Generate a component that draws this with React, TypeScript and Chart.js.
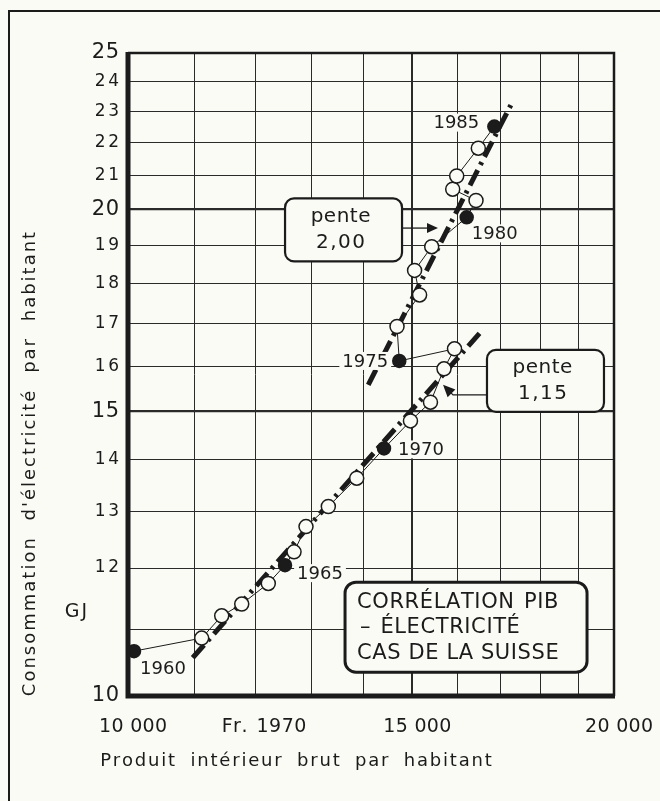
import { useEffect, useRef } from 'react';
import { Chart, registerables } from 'chart.js';

Chart.register(...registerables);

// ---------- data ----------
const years = [1960, 1961, 1962, 1963, 1964, 1965, 1966, 1967, 1968, 1969, 1970, 1971, 1972, 1973, 1974, 1975, 1976, 1977, 1978, 1979, 1980, 1981, 1982, 1983, 1984, 1985];
const gdpPerCapita = [10086, 11108, 11430, 11761, 12215, 12510, 12672, 12890, 13307, 13857, 14407, 14961, 15394, 15694, 15931, 14724, 14677, 15157, 15049, 15421, 16210, 16427, 15890, 15981, 16481, 16862];
const electricityGJ = [10.66, 10.86, 11.21, 11.40, 11.74, 12.05, 12.28, 12.73, 13.10, 13.64, 14.23, 14.80, 15.20, 15.94, 16.40, 16.12, 16.93, 17.71, 18.34, 18.97, 19.78, 20.26, 20.59, 20.98, 21.83, 22.51];
const labelledYears = [1960, 1965, 1970, 1975, 1980, 1985];

const trendLowX = [10967, 16521];
const trendLowY = [10.56, 16.78];
const trendHighX = [14087, 17285];
const trendHighY = [15.58, 23.27];

const xGridValues = [10000, 11000, 12000, 13000, 14000, 15000, 16000, 17000, 18000, 19000, 20000];
const yGridValues = [10, 11, 12, 13, 14, 15, 16, 17, 18, 19, 20, 21, 22, 23, 24, 25];
const xMajorGrid = [15000];
const yMajorGrid = [15, 20];

const yTickLabels = [10, 12, 13, 14, 15, 16, 17, 18, 19, 20, 21, 22, 23, 24, 25];
const yBigTickLabels = [10, 15, 20, 25];
const xTickValues = [10000, 15000, 20000];
const xTickTexts = ['10 000', '15 000', '20 000'];

const xUnitText = 'Fr. 1970';
const yUnitText = 'GJ';
const xTitle = 'Produit intérieur brut par habitant';
const yTitle = "Consommation d'électricité par habitant";
const slopeHighText = ['pente', '2,00'];
const slopeLowText = ['pente', '1,15'];
const titleLines = ['CORRÉLATION PIB', '– ÉLECTRICITÉ', 'CAS DE LA SUISSE'];

// ---------- style ----------
const BG = '#fbfbf6';
const INK = '#1b1b1b';
const FONT = '"DejaVu Sans", sans-serif';

function spacedWidth(ctx: CanvasRenderingContext2D, text: string, ls: number, ws: number) {
  let w = 0;
  const chars = Array.from(text);
  for (const ch of chars) w += ctx.measureText(ch).width + ls + (ch === ' ' ? ws : 0);
  return w - ls;
}

function drawSpaced(ctx: CanvasRenderingContext2D, text: string, x: number, y: number, align: string, ls = 0, ws = 0) {
  const w = spacedWidth(ctx, text, ls, ws);
  let cx = align === 'center' ? x - w / 2 : align === 'right' ? x - w : x;
  ctx.textAlign = 'left';
  for (const ch of Array.from(text)) {
    ctx.fillText(ch, cx, y);
    cx += ctx.measureText(ch).width + ls + (ch === ' ' ? ws : 0);
  }
  return w;
}

function roundRect(ctx: CanvasRenderingContext2D, x: number, y: number, w: number, h: number, r: number) {
  ctx.beginPath();
  ctx.moveTo(x + r, y);
  ctx.lineTo(x + w - r, y);
  ctx.arcTo(x + w, y, x + w, y + r, r);
  ctx.lineTo(x + w, y + h - r);
  ctx.arcTo(x + w, y + h, x + w - r, y + h, r);
  ctx.lineTo(x + r, y + h);
  ctx.arcTo(x, y + h, x, y + h - r, r);
  ctx.lineTo(x, y + r);
  ctx.arcTo(x, y, x + r, y, r);
  ctx.closePath();
}

function arrowHead(ctx: CanvasRenderingContext2D, fromX: number, fromY: number, tipX: number, tipY: number, len: number, half: number) {
  const a = Math.atan2(tipY - fromY, tipX - fromX);
  ctx.beginPath();
  ctx.moveTo(tipX, tipY);
  ctx.lineTo(tipX - len * Math.cos(a) + half * Math.sin(a), tipY - len * Math.sin(a) - half * Math.cos(a));
  ctx.lineTo(tipX - len * Math.cos(a) - half * Math.sin(a), tipY - len * Math.sin(a) + half * Math.cos(a));
  ctx.closePath();
  ctx.fill();
}

const yearLabelOffsets: Record<number, [number, number]> = {
  1960: [29, 17],
  1965: [35, 8],
  1970: [37, 1],
  1975: [-34, 0],
  1980: [28, 16],
  1985: [-38, -4],
};

const decorPlugin = {
  id: 'decor',
  beforeDraw(chart: any) {
    const ctx = chart.ctx as CanvasRenderingContext2D;
    ctx.save();
    ctx.fillStyle = BG;
    ctx.fillRect(0, 0, chart.width, chart.height);
    ctx.restore();
  },
  afterDraw(chart: any) {
    const ctx = chart.ctx as CanvasRenderingContext2D;
    const xs = chart.scales.x;
    const ys = chart.scales.y;
    const { left, right, top, bottom } = chart.chartArea;
    ctx.save();
    ctx.strokeStyle = INK;
    ctx.fillStyle = INK;
    ctx.lineCap = 'butt';

    // outer frame (top + left)
    ctx.lineWidth = 2;
    ctx.beginPath();
    ctx.moveTo(9, chart.height);
    ctx.lineTo(9, 11);
    ctx.lineTo(chart.width, 11);
    ctx.stroke();

    // plot border
    ctx.lineWidth = 2.5;
    ctx.beginPath();
    ctx.moveTo(left, top);
    ctx.lineTo(right, top);
    ctx.lineTo(right, bottom);
    ctx.stroke();
    ctx.lineWidth = 5;
    ctx.beginPath();
    ctx.moveTo(left, top - 1);
    ctx.lineTo(left, bottom);
    ctx.lineTo(right + 1, bottom);
    ctx.stroke();

    // y tick labels
    ctx.textBaseline = 'middle';
    for (const v of yTickLabels) {
      const big = yBigTickLabels.includes(v);
      ctx.font = `${big ? 21 : 17}px ${FONT}`;
      drawSpaced(ctx, String(v), left - 9, ys.getPixelForValue(v), 'right', big ? 0.5 : 2.5);
    }
    // y unit
    ctx.font = `19px ${FONT}`;
    drawSpaced(ctx, yUnitText, left - 52, ys.getPixelForValue(11.27), 'center', 2);

    // x tick labels
    ctx.font = `19px ${FONT}`;
    xTickValues.forEach((v, i) => {
      drawSpaced(ctx, xTickTexts[i], xs.getPixelForValue(v) + 5, bottom + 31, 'center', 0.3);
    });
    drawSpaced(ctx, xUnitText, xs.getPixelForValue(12141), bottom + 31, 'center', 0.5, 2);

    // axis titles
    ctx.font = `18px ${FONT}`;
    drawSpaced(ctx, xTitle, (left + right) / 2 - 75, bottom + 65, 'center', 1.8, 6);
    ctx.save();
    ctx.translate(30, 464);
    ctx.rotate(-Math.PI / 2);
    drawSpaced(ctx, yTitle, 0, 0, 'center', 2, 8);
    ctx.restore();

    // year labels
    ctx.font = `18px ${FONT}`;
    years.forEach((yr, i) => {
      if (!labelledYears.includes(yr)) return;
      const off = yearLabelOffsets[yr];
      const px = xs.getPixelForValue(gdpPerCapita[i]) + off[0];
      const py = ys.getPixelForValue(electricityGJ[i]) + off[1];
      const txt = String(yr);
      const w = spacedWidth(ctx, txt, 0, 0);
      ctx.fillStyle = BG;
      ctx.fillRect(px - w / 2 - 3, py - 9, w + 6, 18);
      ctx.fillStyle = INK;
      drawSpaced(ctx, txt, px, py + 1, 'center', 0);
    });

    // slope box helper
    const slopeBox = (cx: number, cy: number, w: number, h: number, lines: string[]) => {
      roundRect(ctx, cx - w / 2, cy - h / 2, w, h, 9);
      ctx.fillStyle = BG;
      ctx.fill();
      ctx.lineWidth = 2.2;
      ctx.strokeStyle = INK;
      ctx.stroke();
      ctx.fillStyle = INK;
      ctx.font = `20px ${FONT}`;
      drawSpaced(ctx, lines[0], cx - 3, cy - 13, 'center', 0.5);
      drawSpaced(ctx, lines[1], cx - 3, cy + 13, 'center', 1.5);
    };

    // slope 2,00 box + arrow
    {
      const cx = xs.getPixelForValue(13599);
      const cy = ys.getPixelForValue(19.43);
      slopeBox(cx, cy, 117, 63, slopeHighText);
      const tipX = xs.getPixelForValue(15560);
      const tipY = ys.getPixelForValue(19.48);
      ctx.lineWidth = 1.3;
      ctx.beginPath();
      ctx.moveTo(cx + 58.5, tipY);
      ctx.lineTo(tipX - 8, tipY);
      ctx.stroke();
      arrowHead(ctx, cx + 58.5, tipY, tipX, tipY, 11, 5);
    }
    // slope 1,15 box + arrow
    {
      const cx = xs.getPixelForValue(18138);
      const cy = ys.getPixelForValue(15.67);
      slopeBox(cx, cy, 117, 62, slopeLowText);
      const tipX = xs.getPixelForValue(15672);
      const tipY = ys.getPixelForValue(15.58);
      const elbowX = tipX + 10;
      const elbowY = tipY + 10;
      ctx.lineWidth = 1.3;
      ctx.beginPath();
      ctx.moveTo(cx - 58.5, elbowY);
      ctx.lineTo(elbowX, elbowY);
      ctx.lineTo(tipX + 5, tipY + 5);
      ctx.stroke();
      arrowHead(ctx, elbowX, elbowY, tipX, tipY, 12, 5.5);
    }
    // title box
    {
      const cx = xs.getPixelForValue(16195);
      const cy = ys.getPixelForValue(11.03);
      const w = 242;
      const h = 90;
      roundRect(ctx, cx - w / 2, cy - h / 2, w, h, 11);
      ctx.fillStyle = BG;
      ctx.fill();
      ctx.lineWidth = 3;
      ctx.strokeStyle = INK;
      ctx.stroke();
      ctx.fillStyle = INK;
      ctx.font = `21px ${FONT}`;
      const x0 = cx - w / 2 + 12;
      drawSpaced(ctx, titleLines[0], x0, cy - 25, 'left', 0.6, 2);
      drawSpaced(ctx, titleLines[1], x0 + 3, cy, 'left', 0.6, 2);
      drawSpaced(ctx, titleLines[2], x0, cy + 26, 'left', 0.6, 0);
    }
    ctx.restore();
  },
};

export default function App() {
  const ref = useRef<HTMLCanvasElement | null>(null);

  useEffect(() => {
    document.body.style.margin = '0';
    const canvas = ref.current;
    if (!canvas) return;
    const isFilled = (i: number) => labelledYears.includes(years[i]);
    const chart = new Chart(canvas, {
      type: 'scatter',
      data: {
        datasets: [
          {
            data: gdpPerCapita.map((x, i) => ({ x, y: electricityGJ[i] })),
            showLine: true,
            borderColor: INK,
            borderWidth: 1,
            pointRadius: (c: any) => (isFilled(c.dataIndex) ? 6.5 : 7),
            pointBackgroundColor: (c: any) => (isFilled(c.dataIndex) ? INK : BG),
            pointBorderColor: INK,
            pointBorderWidth: 1.5,
          },
          {
            data: trendHighX.map((x, i) => ({ x, y: trendHighY[i] })),
            showLine: true,
            borderColor: INK,
            borderWidth: 5,
            borderDash: [17, 6, 3, 6],
            borderCapStyle: 'butt',
            pointRadius: 0,
          },
          {
            data: trendLowX.map((x, i) => ({ x, y: trendLowY[i] })),
            showLine: true,
            borderColor: INK,
            borderWidth: 5,
            borderDash: [17, 6, 3, 6],
            borderCapStyle: 'butt',
            pointRadius: 0,
          },
        ] as any,
      },
      options: {
        responsive: false,
        animation: false,
        events: [],
        layout: { padding: { left: 128, right: 46, top: 53, bottom: 105 } },
        plugins: { legend: { display: false }, tooltip: { enabled: false } },
        scales: {
          x: {
            type: 'logarithmic',
            min: 10000,
            max: 20000,
            afterBuildTicks: (s: any) => {
              s.ticks = xGridValues.map((value) => ({ value }));
            },
            ticks: { display: false },
            border: { display: false },
            grid: {
              drawTicks: false,
              color: '#2a2a2a',
              lineWidth: (c: any) => (c.tick && xMajorGrid.includes(c.tick.value) ? 2 : 1),
            },
          },
          y: {
            type: 'logarithmic',
            min: 10,
            max: 25,
            afterBuildTicks: (s: any) => {
              s.ticks = yGridValues.map((value) => ({ value }));
            },
            ticks: { display: false },
            border: { display: false },
            grid: {
              drawTicks: false,
              color: '#2a2a2a',
              lineWidth: (c: any) => (c.tick && yMajorGrid.includes(c.tick.value) ? 2.2 : 1),
            },
          },
        },
      } as any,
      plugins: [decorPlugin],
    });
    return () => chart.destroy();
  }, []);

  return (
    <div style={{ position: 'absolute', left: 0, top: 0, width: 660, height: 801 }}>
      <canvas ref={ref} width={660} height={801} style={{ display: 'block', width: 660, height: 801 }} />
    </div>
  );
}
